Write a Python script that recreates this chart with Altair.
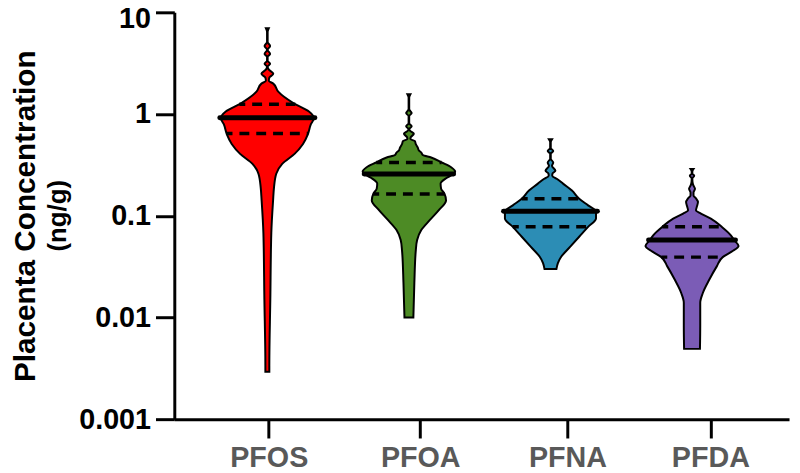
import altair as alt
import numpy as np
import pandas as pd

compounds = ["PFOS", "PFOA", "PFNA", "PFDA"]
colors = ["#ff0000", "#4d8b25", "#2c8db5", "#7b5cb6"]
# positions of the category ticks/labels on the x axis (violins sit at 1, 2, 3, 4)
tick_pos = [1.01, 2.08, 3.12, 4.13]

# violin outlines: concentration (ng/g) and relative density
pfos_conc = [6.99, 6.39, 5.11, 4.67, 4.27, 3.90, 3.65, 3.34, 3.12, 2.92, 2.73, 2.49, 2.28, 2.13,
             1.99, 1.66, 1.27, 1.06, 0.909, 0.795, 0.635, 0.508, 0.406, 0.324, 0.259, 0.189,
             0.142, 0.0676, 0.0151, 0.00336, 0.00293]
pfos_dens = [1.5, 0.3, 0.3, 2.8, 0.3, 2.8, 0.3, 0.3, 2.8, 0.3, 1.5, 6, 2, 1.5,
             6, 11, 27, 42, 47, 44, 41, 36, 27.5, 15, 9, 6.7,
             5.8, 4, 3, 2, 2]

pfoa_conc = [1.567, 1.455, 1.112, 1.024, 0.951, 0.813, 0.760, 0.710, 0.680, 0.639, 0.594, 0.568,
             0.543, 0.505, 0.467, 0.44, 0.418, 0.395, 0.3735, 0.334, 0.2985, 0.273, 0.248,
             0.2317, 0.207, 0.185, 0.1644, 0.1415, 0.1131, 0.0904, 0.0723, 0.0577, 0.0462,
             0.0220, 0.00999]
pfoa_dens = [1.5, 0.3, 0.3, 2.8, 0.3, 0.3, 2.8, 0.3, 1.5, 5, 2, 1.5,
             6, 7, 9, 10, 12.5, 14, 22.5, 33, 43, 46.7, 42,
             37, 32, 32.5, 36, 37.5, 30, 21, 12.5, 8.3, 7,
             5.5, 4.5]

pfna_conc = [0.564, 0.531, 0.464, 0.434, 0.406, 0.363, 0.334, 0.310, 0.277, 0.259, 0.248, 0.230,
             0.2058, 0.177, 0.147, 0.1266, 0.1106, 0.0939, 0.0778, 0.0622, 0.0497, 0.0397,
             0.0343, 0.0299]
pfna_dens = [1.5, 0.3, 0.3, 2.8, 0.3, 0.3, 2.8, 1.5, 5, 2, 1.8, 6.7,
             13, 21.7, 29, 38, 46, 46, 38, 29, 20, 11,
             7.5, 6]

pfda_conc = [0.288, 0.271, 0.259, 0.248, 0.2317, 0.2025, 0.184, 0.1693, 0.1583, 0.148, 0.1362,
             0.1237, 0.1131, 0.1051, 0.0939, 0.0778, 0.0646, 0.0577, 0.0505, 0.0444, 0.0392,
             0.0318, 0.0236, 0.0175, 0.01398, 0.00827, 0.00491]
pfda_dens = [1.5, 0.3, 0.3, 2.2, 0.3, 1, 3, 1.5, 1.5, 4, 6,
             5, 4, 9, 19, 30, 39, 42.5, 47, 40, 31,
             25, 17.5, 11, 8.3, 8.3, 8]

# quartiles (ng/g): Q1, median, Q3
q1 = [0.645, 0.164, 0.0778, 0.0392]
median = [0.92, 0.257, 0.1106, 0.0577]
q3 = [1.25, 0.334, 0.147, 0.0778]

profiles = [(pfos_conc, pfos_dens), (pfoa_conc, pfoa_dens),
            (pfna_conc, pfna_dens), (pfda_conc, pfda_dens)]

HALF = 0.3287  # max half-width of a violin in x units
dmax = max(max(d) for _, d in profiles)

rows = []
lines = []
for i, (name, (conc, dens)) in enumerate(zip(compounds, profiles)):
    pos = i + 1
    for c, d in zip(conc, dens):
        w = d / dmax * HALF
        rows.append({"compound": name, "conc": c, "lo": pos - w, "hi": pos + w})
    lc = np.log10(conc[::-1])
    ld = np.array(dens[::-1]) / dmax * HALF
    for kind, val in (("q1", q1[i]), ("med", median[i]), ("q3", q3[i])):
        w = float(np.interp(np.log10(val), lc, ld))
        if kind == "med":
            w += 0.01
        lines.append({"compound": name, "kind": kind, "conc": val, "lo": pos - w, "hi": pos + w})

vdf = pd.DataFrame(rows)
ldf = pd.DataFrame(lines)

label_expr = ""
for p, c in zip(tick_pos[:-1], compounds[:-1]):
    label_expr += "datum.value < %g ? '%s' : " % (p + 0.3, c)
label_expr += "'%s'" % compounds[-1]

xscale = alt.Scale(domain=[0.3427, 4.6853], nice=False, zero=False)
yscale = alt.Scale(type="log", domain=[0.001, 10], nice=False)

xaxis = alt.Axis(values=tick_pos, labelExpr=label_expr, title=None, grid=False,
                 labelFontSize=29, labelFont="Liberation Sans", labelFontWeight="bold",
                 labelColor="#595959", labelPadding=6, tickSize=19, tickWidth=3,
                 tickColor="black", domainColor="black", domainWidth=3)
yaxis = alt.Axis(values=[0.001, 0.01, 0.1, 1, 10], format="~g", grid=False,
                 title="Placenta Concentration", titleFontSize=30, titleFont="Liberation Sans",
                 titleFontWeight="bold", titleColor="black", titleAngle=270,
                 titleBaseline="alphabetic", titleAlign="center", titleX=-141, titleY=205.5,
                 labelFontSize=29, labelFont="Liberation Sans", labelFontWeight="bold",
                 labelColor="black", labelPadding=5, tickSize=19, tickWidth=3,
                 labelOffset={"condition": {"test": "datum.value >= 10", "value": 6}, "value": 0},
                 tickColor="black", domainColor="black", domainWidth=3)

color = alt.Color("compound:N", scale=alt.Scale(domain=compounds, range=colors), legend=None)

violins = alt.Chart(vdf).mark_area(
    orient="horizontal", interpolate="monotone", stroke="black", strokeWidth=2
).encode(
    y=alt.Y("conc:Q", scale=yscale, axis=yaxis),
    x=alt.X("lo:Q", scale=xscale, axis=xaxis),
    x2="hi:Q",
    color=color,
    detail="compound:N",
)

medians = alt.Chart(ldf).transform_filter(alt.datum.kind == "med").mark_rule(
    color="black", strokeWidth=5, strokeCap="round"
).encode(y="conc:Q", x="lo:Q", x2="hi:Q")

quart = alt.Chart(ldf).transform_filter(alt.datum.kind != "med").mark_rule(
    color="black", strokeWidth=3.5, strokeDash=[10, 7], strokeDashOffset=4
).encode(y="conc:Q", x="lo:Q", x2="hi:Q")

unit = alt.Chart(pd.DataFrame({"t": ["(ng/g)"]})).mark_text(
    angle=270, align="center", baseline="alphabetic", fontSize=26,
    font="Liberation Sans", fontWeight="bold", color="black"
).encode(x=alt.value(-109), y=alt.value(205.5), text="t:N")

chart = alt.layer(violins, medians, quart, unit).properties(
    width=621, height=411,
    autosize=alt.AutoSizeParams(type="none"),
    padding={"left": 168, "top": 2, "right": 3, "bottom": 52},
).configure_view(stroke=None)

chart.save("out.html", embed_options={"renderer": "svg", "actions": False})
